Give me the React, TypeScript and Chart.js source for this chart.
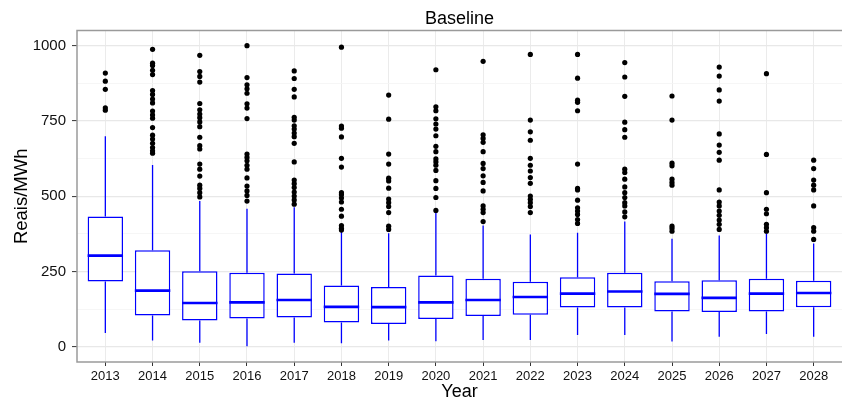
import React, { useEffect, useRef } from "react";
import { Chart, registerables } from "chart.js";
Chart.register(...registerables);

const years = [2013, 2014, 2015, 2016, 2017, 2018, 2019, 2020, 2021, 2022, 2023, 2024, 2025, 2026, 2027, 2028];
const whiskerLow = [46, 21, 14, 2, 14, 12, 21, 19, 23, 23, 40, 40, 18, 34, 43, 34];
const q1 = [217, 104, 88, 94, 98, 81, 76, 93, 103, 107, 131, 131, 118, 116, 118, 132];
const median = [303, 187, 146, 148, 156, 133, 132, 148, 156, 166, 177, 184, 176, 163, 177, 179];
const q3 = [433, 321, 251, 246, 244, 204, 199, 237, 226, 216, 231, 246, 218, 221, 226, 220];
const whiskerHigh = [699, 604, 484, 459, 464, 384, 377, 446, 403, 373, 379, 416, 359, 370, 377, 343];
const outliers = [
  [786, 794, 855, 882, 909],
  [643, 651, 662, 676, 690, 703, 728, 759, 770, 783, 810, 823, 838, 851, 904, 918, 934, 942, 988],
  [498, 512, 526, 537, 567, 590, 607, 657, 668, 696, 731, 747, 761, 773, 787, 808, 879, 898, 914, 968],
  [484, 503, 518, 534, 561, 590, 603, 618, 629, 640, 758, 793, 807, 842, 857, 870, 894, 1000],
  [474, 488, 501, 514, 529, 542, 554, 614, 676, 698, 710, 723, 734, 753, 762, 830, 855, 891, 916],
  [388, 394, 403, 434, 457, 481, 494, 505, 512, 597, 626, 697, 726, 733, 995],
  [390, 401, 446, 466, 479, 491, 527, 551, 560, 607, 640, 756, 836],
  [453, 496, 526, 552, 586, 603, 614, 624, 648, 666, 701, 723, 740, 757, 784, 797, 920],
  [416, 446, 457, 468, 518, 546, 568, 592, 609, 648, 679, 692, 704, 948],
  [446, 466, 479, 490, 501, 543, 562, 584, 603, 626, 686, 714, 753, 971],
  [410, 423, 440, 451, 462, 487, 521, 526, 607, 784, 812, 819, 892, 971],
  [432, 448, 468, 479, 496, 512, 531, 557, 579, 590, 696, 721, 746, 832, 896, 944],
  [384, 393, 401, 537, 546, 557, 601, 610, 753, 833],
  [390, 407, 421, 437, 451, 468, 481, 521, 620, 646, 670, 707, 816, 853, 899, 929],
  [384, 396, 407, 442, 457, 512, 639, 907],
  [357, 384, 396, 468, 521, 537, 554, 592, 620],
];
const yTicks = [0, 125, 250, 375, 500, 625, 750, 875, 1000];
const yMajor = [0, 250, 500, 750, 1000];

const BLUE = "#0000ff";
const FONT = "'Liberation Sans', Arial, Helvetica, sans-serif";

export default function App() {
  const ref = useRef<HTMLCanvasElement>(null);

  useEffect(() => {
    if (!ref.current) return;
    const boxParts = {
      id: "boxParts",
      beforeDatasetsDraw(chart: any) {
        const { ctx } = chart;
        const xs = chart.scales.x;
        const ys = chart.scales.y;
        ctx.save();
        ctx.strokeStyle = BLUE;
        ctx.lineWidth = 1.3;
        years.forEach((yr, i) => {
          const x = xs.getPixelForValue(yr);
          ctx.beginPath();
          ctx.moveTo(x, ys.getPixelForValue(whiskerLow[i]));
          ctx.lineTo(x, ys.getPixelForValue(q1[i]));
          ctx.moveTo(x, ys.getPixelForValue(q3[i]));
          ctx.lineTo(x, ys.getPixelForValue(whiskerHigh[i]));
          ctx.stroke();
        });
        ctx.restore();
      },
      afterDatasetsDraw(chart: any) {
        const { ctx } = chart;
        const ys = chart.scales.y;
        const meta = chart.getDatasetMeta(0);
        ctx.save();
        ctx.strokeStyle = BLUE;
        ctx.lineWidth = 2.6;
        meta.data.forEach((el: any, i: number) => {
          const y = ys.getPixelForValue(median[i]);
          ctx.beginPath();
          ctx.moveTo(el.x - el.width / 2, y);
          ctx.lineTo(el.x + el.width / 2, y);
          ctx.stroke();
        });
        const a = chart.chartArea;
        ctx.strokeStyle = "#9a9a9a";
        ctx.lineWidth = 1.5;
        ctx.beginPath();
        ctx.moveTo(a.right, a.top);
        ctx.lineTo(a.left, a.top);
        ctx.lineTo(a.left, a.bottom);
        ctx.lineTo(a.right, a.bottom);
        ctx.stroke();
        ctx.restore();
      },
    };

    const chart = new Chart(ref.current, {
      type: "bar",
      data: {
        datasets: [
          {
            type: "bar",
            data: years.map((yr, i) => ({ x: yr, y: [q1[i], q3[i]] })) as any,
            backgroundColor: "#ffffff",
            borderColor: BLUE,
            borderWidth: 1.5,
            borderSkipped: false,
            barPercentage: 0.75,
            categoryPercentage: 1,
            grouped: false,
          } as any,
          {
            type: "scatter",
            data: years.flatMap((yr, i) => outliers[i].map((v) => ({ x: yr, y: v }))) as any,
            backgroundColor: "#000000",
            borderWidth: 0,
            pointRadius: 2.6,
          } as any,
        ],
      },
      options: {
        responsive: false,
        animation: false,
        layout: { padding: 0, autoPadding: false },
        plugins: {
          legend: { display: false },
          tooltip: { enabled: false },
          title: {
            display: true,
            text: "Baseline",
            fullSize: false,
            color: "#000",
            font: { family: FONT, size: 18, weight: "normal" },
            padding: { top: 8, bottom: 1 },
          },
        },
        scales: {
          x: {
            type: "linear",
            min: 2012.4,
            max: 2028.6,
            offset: false,
            afterBuildTicks: (s: any) => {
              s.ticks = years.map((v) => ({ value: v }));
            },
            afterFit: (s: any) => {
              s.height = 39;
              s.paddingLeft = 0;
              s.paddingRight = 0;
            },
            ticks: {
              autoSkip: false,
              maxRotation: 0,
              padding: 3,
              color: "#111",
              font: { family: FONT, size: 13 },
              callback: (v: any) => String(v),
            },
            grid: {
              offset: false,
              color: "#ebebeb",
              lineWidth: 1,
              drawTicks: true,
              tickLength: 4,
              tickColor: "#333",
              tickWidth: 1,
            },
            border: { display: false },
            title: {
              display: true,
              text: "Year",
              color: "#000",
              font: { family: FONT, size: 18 },
              padding: { top: 0, bottom: -2 },
            },
          },
          y: {
            type: "linear",
            min: -50,
            max: 1050,
            afterBuildTicks: (s: any) => {
              s.ticks = yTicks.map((v) => ({ value: v }));
            },
            afterFit: (s: any) => {
              s.width = 77;
            },
            ticks: {
              padding: 6,
              color: "#111",
              font: { family: FONT, size: 15 },
              callback: (v: any) => (yMajor.includes(v) ? String(v) : ""),
            },
            grid: {
              color: (c: any) => (c.tick && yMajor.includes(c.tick.value) ? "#e8e8e8" : "#f4f4f4"),
              lineWidth: (c: any) => (c.tick && yMajor.includes(c.tick.value) ? 1.2 : 0.8),
              drawTicks: true,
              tickLength: 5,
              tickColor: (c: any) => (c.tick && yMajor.includes(c.tick.value) ? "#333" : "rgba(0,0,0,0)"),
              tickWidth: 1,
            },
            border: { display: false },
            title: {
              display: true,
              text: "Reais/MWh",
              color: "#000",
              font: { family: FONT, size: 18.5 },
              padding: { top: 11, bottom: 0 },
            },
          },
        },
      } as any,
      plugins: [boxParts],
    });
    return () => chart.destroy();
  }, []);

  return (
    <div style={{ position: "fixed", left: 0, top: 0, width: 842, height: 401, background: "#fff" }}>
      <canvas ref={ref} width={842} height={401} style={{ display: "block" }} />
    </div>
  );
}
